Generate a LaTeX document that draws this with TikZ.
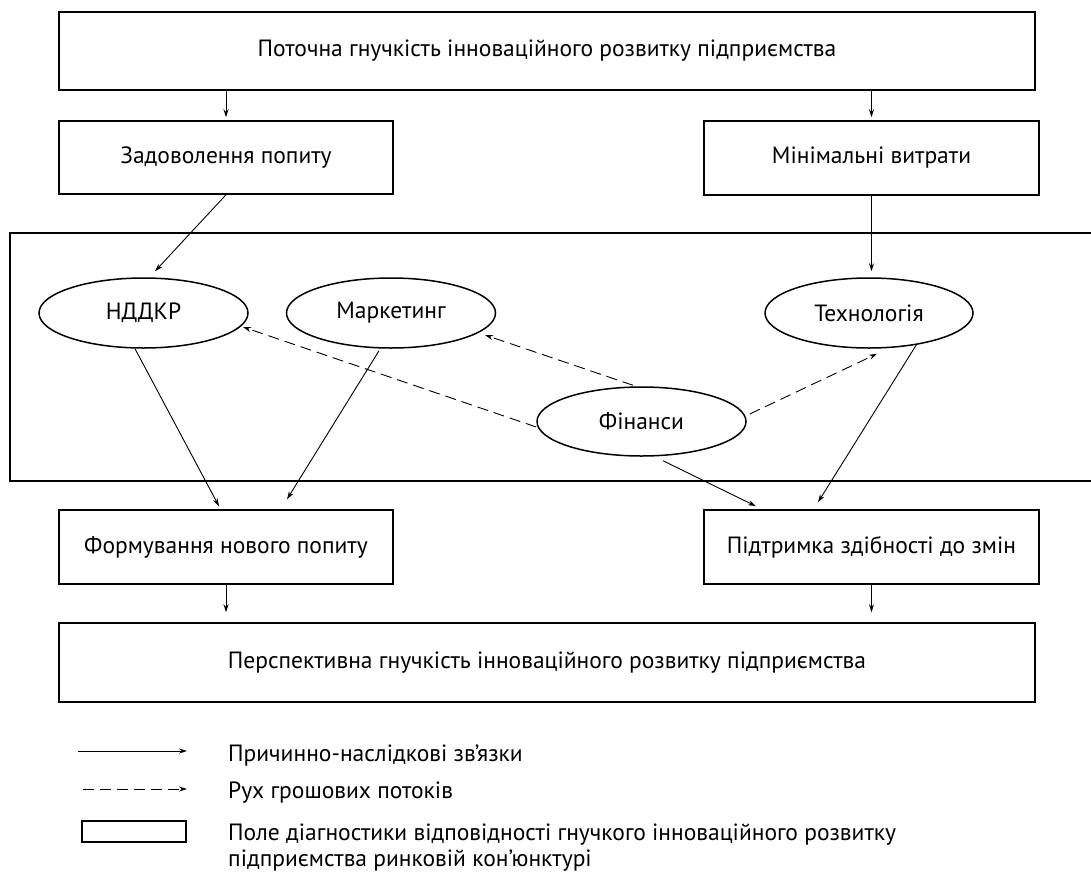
\documentclass[tikz,border=0pt]{standalone}
\usepackage{fontspec}
\setmainfont{PT Sans}
\usetikzlibrary{arrows.meta,shapes.geometric,calc}
\begin{document}
\begin{tikzpicture}[x=1pt,y=-1pt,
  font=\fontsize{23.5}{28}\selectfont,
  box/.style={draw,line width=1.5pt,inner sep=0pt},
  oval/.style={draw,ellipse,line width=1.5pt,inner sep=0pt},
  conn/.style={line width=0.9pt,-{Stealth[length=8pt,width=5pt]}},
  money/.style={conn,dash pattern=on 11pt off 6pt},
  lbl/.style={anchor=base west,inner sep=0pt}]
\useasboundingbox (0,0) rectangle (1091,873);
% field
\draw[line width=1.5pt] (10,233) rectangle (1091.5,481);
% boxes
\node[box,minimum width=976pt,minimum height=78pt] (top) at (547,51) {Поточна гнучкість інноваційного розвитку підприємства};
\node[box,minimum width=334pt,minimum height=73pt] (zad) at (226,157.5) {Задоволення попиту};
\node[box,minimum width=335pt,minimum height=74pt] (min) at (871.5,158) {Мінімальні витрати};
\node[box,minimum width=334pt,minimum height=74pt] (form) at (226,547) {Формування нового попиту};
\node[box,minimum width=335pt,minimum height=74pt] (pid) at (871.5,547) {Підтримка здібності до змін};
\node[box,minimum width=976pt,minimum height=79pt] (bot) at (547,662.5) {Перспективна гнучкість інноваційного розвитку підприємства};
% ellipses
\node[oval,minimum width=209pt,minimum height=70pt] (nd) at (143.5,313) {НДДКР};
\node[oval,minimum width=209pt,minimum height=70pt] (mar) at (391,313) {Маркетинг};
\node[oval,minimum width=208pt,minimum height=70pt] (tech) at (869,313) {Технологія};
\node[oval,minimum width=209pt,minimum height=69pt] (fin) at (641.5,421.5) {Фінанси};
% connectors
\draw[conn] (zad.north |- top.south) -- ([yshift=3pt]zad.north);
\draw[conn] (min.north |- top.south) -- ([yshift=3pt]min.north);
\draw[conn] (zad.south) -- ([shift={(11.5pt,6pt)}]nd.north);
\draw[conn] (min.south) -- ([yshift=6pt]min.south |- tech.north);
\draw[conn] ([xshift=-8.5pt]nd.south) -- ([shift={(-7pt,3pt)}]form.north);
\draw[conn] ([shift={(-12pt,-2pt)}]mar.south) -- ([shift={(61pt,10pt)}]form.north);
\draw[conn] (tech.-34) -- ([shift={(-53.5pt,7pt)}]pid.north);
\draw[conn] ([shift={(21.5pt,-4pt)}]fin.south) -- ([shift={(-115.5pt,3pt)}]pid.north);
\draw[money] ([yshift=-5.5pt]fin.west) -- ([shift={(99.5pt,-14pt)}]nd.center);
\draw[money] ([shift={(-8.5pt,1pt)}]fin.north) -- ([shift={(94pt,-22pt)}]mar.center);
\draw[money] ([shift={(3pt,7.5pt)}]fin.east) -- ([shift={(8pt,-5pt)}]tech.south);
\draw[conn] (form.south) -- ([yshift=10pt]form.south |- bot.north);
\draw[conn] (pid.south) -- ([yshift=10pt]pid.south |- bot.north);
% legend
\coordinate (l1a) at (78,751); \coordinate (l1b) at (187,751);
\coordinate (l2a) at (83,789); \coordinate (l2b) at (187,789);
\draw[conn] (l1a) -- (l1b);
\draw[money] (l2a) -- (l2b);
\node[draw,line width=1.5pt,minimum width=104pt,minimum height=21pt,inner sep=0pt] (l3) at (134,831.5) {};
\node[lbl] (t1) at (228,761) {Причинно-наслідкові зв’язки};
\node[lbl] (t2) at (228,798) {Рух грошових потоків};
\node[lbl] (t3) at (228,840) {Поле діагностики відповідності гнучкого інноваційного розвитку};
\node[lbl] (t4) at (228,866) {підприємства ринковій кон’юнктурі};
\end{tikzpicture}
\end{document}
